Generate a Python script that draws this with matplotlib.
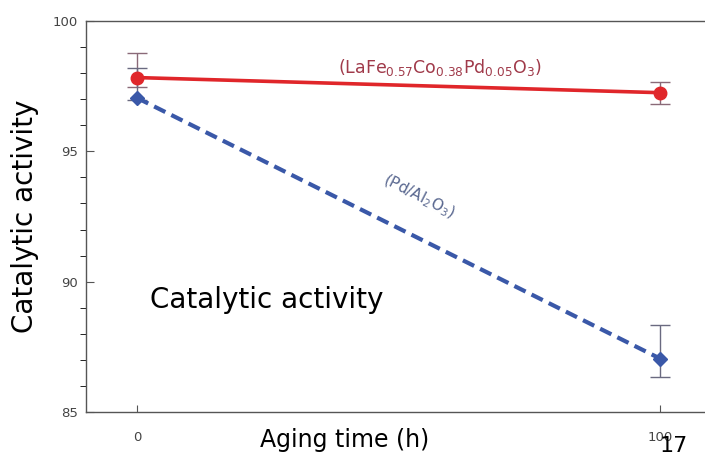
import numpy as np
import matplotlib
matplotlib.use("Agg")
from matplotlib import pyplot as plt
from matplotlib.ticker import MultipleLocator

# data
aging_time = [0, 100]
perovskite = [97.83, 97.25]
perov_err_lo = [0.37, 0.45]
perov_err_hi = [0.94, 0.42]
pd_alumina = [97.05, 87.05]
pd_err_lo = [0.08, 0.69]
pd_err_hi = [1.15, 1.29]

fig = plt.figure(figsize=(7.05, 4.57), dpi=100)
ax = fig.add_axes([86 / 705, 45 / 457, 1 - 86 / 705, 391 / 457])

ax.errorbar(aging_time, perovskite, yerr=[perov_err_lo, perov_err_hi], fmt="none",
            ecolor="#8a6a78", elinewidth=1.0, capsize=7, capthick=1.0, zorder=2)
ax.errorbar(aging_time, pd_alumina, yerr=[pd_err_lo, pd_err_hi], fmt="none",
            ecolor="#6a6a80", elinewidth=1.0, capsize=7, capthick=1.0, zorder=2)
ax.plot(aging_time, perovskite, color="#e0262a", lw=2.6, marker="o", ms=9, zorder=3)
ax.plot(aging_time, pd_alumina, color="#3a58a8", lw=3, ls=(0, (3, 1.6)),
        marker="D", ms=7, zorder=3)

ax.set_xlim(-9.75, 108.6)
ax.set_ylim(85, 100)
ax.set_xticks([0, 100])
ax.yaxis.set_major_locator(MultipleLocator(5))
ax.yaxis.set_minor_locator(MultipleLocator(1))
ax.tick_params(direction="in", labelsize=9.5, labelcolor="#444444", color="#555555")
ax.tick_params(axis="x", pad=14, length=5)
ax.tick_params(axis="y", which="major", length=6, pad=6)
ax.tick_params(axis="y", which="minor", length=4)
ax.spines["right"].set_visible(False)
for s in ["left", "bottom", "top"]:
    ax.spines[s].set_color("#555555")
    ax.spines[s].set_linewidth(1.0)

ax.set_ylabel("Catalytic activity", fontsize=20, labelpad=10)
ax.set_xlabel("Aging time (h)", fontsize=17, va="center")
ax.xaxis.set_label_coords(0.418, -0.072)

ax.text(58, 98.2, r"(LaFe$_{0.57}$Co$_{0.38}$Pd$_{0.05}$O$_3$)", color="#a03a4a",
        fontsize=12.5, ha="center", va="center")
ax.text(54, 93.25, r"(Pd/Al$_2$O$_3$)", color="#5a6890", fontsize=11,
        ha="center", va="center", rotation=-27)
ax.text(2.5, 89.3, "Catalytic activity", fontsize=20, ha="left", va="center")

fig.text(0.975, 0.002, "17", fontsize=16, ha="right", va="bottom")

plt.savefig("out.png", dpi=100)
